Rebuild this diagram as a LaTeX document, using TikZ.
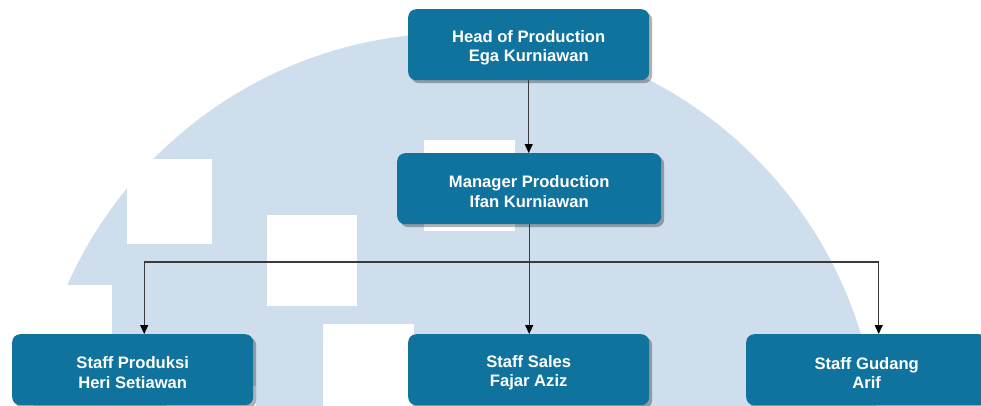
\documentclass[tikz,border=0pt]{standalone}
\usepackage{fontspec}
\setmainfont{Liberation Sans}
\usetikzlibrary{arrows.meta,shadows,calc}

\definecolor{boxblue}{HTML}{10739E}
\definecolor{wmblue}{HTML}{CEDEED}
\definecolor{linegray}{HTML}{3A3A3A}

% tall invisible strut that lowers a two-line label a little
\newcommand{\toplinestrut}{\rule{0pt}{18pt}}

\tikzset{
  orgbox/.style={rectangle, rounded corners=8pt, fill=boxblue, text=white,
    font=\bfseries\fontsize{16.6}{19.4}\selectfont, align=center,
    minimum width=241pt, minimum height=71pt, inner sep=0pt, anchor=north west,
    drop shadow={shadow xshift=3pt, shadow yshift=-3pt, fill=black, opacity=0.3}},
  link/.style={draw=linegray, line width=1.1pt,
    -{Triangle[length=9pt,width=8pt,fill=black,color=black]}},
}

\begin{document}
\begin{tikzpicture}[x=1pt,y=-1pt]
\useasboundingbox (0,0) rectangle (981,405);

% watermark: pale disc with white squares
\begin{scope}
  \clip (0,0) rectangle (981,405);
  \fill[wmblue] (455,457) circle[radius=424pt];
  \fill[white] (127,159) rectangle (212,244);
  \fill[white] (22,285) rectangle (112,375);
  \fill[white] (267,215) rectangle (357,306);
  \fill[white] (323,324) rectangle (414,415);
  \fill[white] (424,140) rectangle (515,231);
  \fill[white] (166,386) rectangle (256,476);
\end{scope}

% organisation boxes
\node[orgbox] (head) at (408,9) {\toplinestrut Head of Production\\Ega Kurniawan};
\node[orgbox, minimum width=264pt] (mgr) at (397,153) {\toplinestrut Manager Production\\Ifan Kurniawan};
\node[orgbox] (prod) at (12,334) {\toplinestrut Staff Produksi\\Heri Setiawan};
\node[orgbox] (sales) at (408,334) {\toplinestrut Staff Sales\\Fajar Aziz};
\node[orgbox] (gud) at (746,334) {\toplinestrut Staff Gudang\\Arif};

% connectors
\coordinate (bus) at (529,262);
\draw[link] (head.south) -- (head.south |- mgr.north);
\draw[link] (mgr.south) -- (mgr.south |- sales.north);
\draw[link] (mgr.south |- bus) -| ([xshift=11.5pt]prod.north);
\draw[link] (mgr.south |- bus) -| ([xshift=12pt]gud.north);
\end{tikzpicture}
\end{document}
